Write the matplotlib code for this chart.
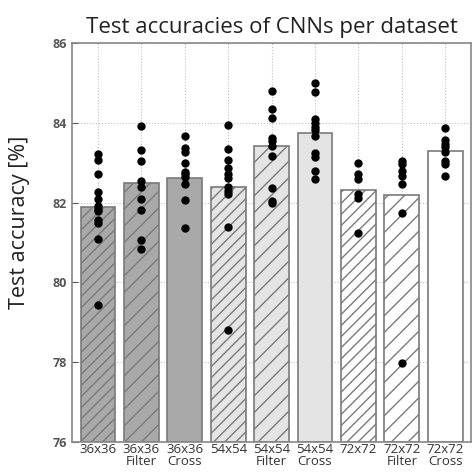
import matplotlib
matplotlib.use("Agg")
import matplotlib.pyplot as plt

plt.rcParams['font.family'] = ['Open Sans', 'DejaVu Sans']
plt.rcParams['hatch.color'] = '#6a6a6a'
plt.rcParams['hatch.linewidth'] = 1.0

labels = ["36x36", "36x36\nFilter", "36x36\nCross",
          "54x54", "54x54\nFilter", "54x54\nCross",
          "72x72", "72x72\nFilter", "72x72\nCross"]
means = [81.88, 82.49, 82.62, 82.40, 83.42, 83.74, 82.33, 82.20, 83.29]
runs = [
    [83.23, 83.06, 82.73, 82.27, 82.09, 81.92, 81.84, 81.80, 81.56, 81.48, 81.08, 79.43],
    [83.93, 83.32, 83.05, 82.55, 82.40, 82.10, 81.81, 81.06, 80.85],
    [83.67, 83.36, 83.26, 82.99, 82.78, 82.72, 82.65, 82.48, 82.07, 81.37],
    [83.95, 83.34, 83.07, 82.86, 82.73, 82.61, 82.40, 82.30, 82.23, 81.38, 78.82],
    [84.80, 84.35, 84.13, 83.63, 83.54, 83.42, 83.17, 82.36, 82.05, 81.98],
    [84.99, 84.78, 84.09, 84.00, 83.90, 83.82, 83.67, 83.24, 83.15, 82.80, 82.59],
    [83.00, 82.72, 82.59, 82.23, 82.11, 81.23],
    [83.05, 82.97, 82.80, 82.67, 82.47, 81.73, 77.97],
    [83.88, 83.57, 83.47, 83.39, 83.28, 83.05, 82.96, 82.67],
]
colors = ['#a9a9a9'] * 3 + ['#e4e4e4'] * 3 + ['#ffffff'] * 3
hatches = ['///', '//', ''] * 3

fig = plt.figure(figsize=(4.72, 4.72), dpi=100)
ax = fig.add_axes([0.1525, 0.0636, 0.846, 0.845])

for i in range(len(means)):
    ax.bar(i, means[i] - 76, bottom=76, width=0.8, color=colors[i],
           edgecolor='#7a7a7a', linewidth=1.2, hatch=hatches[i], zorder=2)
    ax.plot([i] * len(runs[i]), runs[i], 'o', color='black', markersize=5, zorder=3)

ax.set_xlim(-0.6, 8.6)
ax.set_ylim(76, 86)
ax.set_yticks([76, 78, 80, 82, 84, 86])
ax.set_xticks(range(len(labels)))
ax.set_xticklabels(labels, fontsize=9.5, linespacing=0.85)
ax.tick_params(axis='y', labelsize=9, colors='#555555', direction='in', length=4)
ax.tick_params(axis='x', direction='in', length=4, pad=1, colors='#444444')
for t in ax.get_yticklabels():
    t.set_fontweight('bold')
for t in ax.get_xticklabels():
    t.set_color('#333333')
ax.grid(True, linestyle=':', color='#c0c0c0', linewidth=0.8, zorder=0)
ax.set_axisbelow(True)
for s in ax.spines.values():
    s.set_color('#888888')
    s.set_linewidth(1.2)

ax.set_ylabel("Test accuracy [%]", fontsize=15.5, color='#222222')
ax.yaxis.set_label_coords(-0.105, 0.55)
ax.set_title("Test accuracies of CNNs per dataset", fontsize=16, color='#222222', pad=7)

fig.savefig("out.png", dpi=100)
